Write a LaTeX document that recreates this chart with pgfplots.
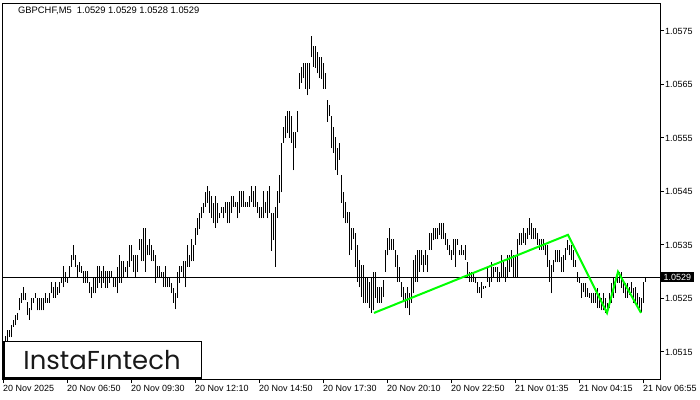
\documentclass[border=0pt]{standalone}
\usepackage{pgfplots}
\usepackage{pgfplotstable}
\pgfplotsset{compat=1.18}
\usepackage{fontspec}
\setmainfont{Liberation Sans}
\newfontfamily\logofont{Poppins}
\definecolor{patgreen}{RGB}{0,255,0}

% M5 bars: position, low, high
\pgfplotstableread{
x lo hi
5 1.05171 1.05180
7 1.05171 1.05191
9 1.05178 1.05191
11 1.05178 1.05200
13 1.05197 1.05210
15 1.05200 1.05219
17 1.05210 1.05223
19 1.05228 1.05251
21 1.05242 1.05260
23 1.05247 1.05271
25 1.05247 1.05260
27 1.05219 1.05243
29 1.05210 1.05232
31 1.05228 1.05251
33 1.05242 1.05251
35 1.05251 1.05260
37 1.05228 1.05251
39 1.05228 1.05251
41 1.05228 1.05251
43 1.05228 1.05251
45 1.05242 1.05260
47 1.05242 1.05251
49 1.05242 1.05260
51 1.05260 1.05281
53 1.05251 1.05271
55 1.05251 1.05281
57 1.05257 1.05271
59 1.05260 1.05281
61 1.05279 1.05290
63 1.05271 1.05311
65 1.05281 1.05300
67 1.05279 1.05290
69 1.05290 1.05311
71 1.05309 1.05331
73 1.05322 1.05350
75 1.05309 1.05331
77 1.05290 1.05313
79 1.05300 1.05318
81 1.05298 1.05311
83 1.05279 1.05301
85 1.05279 1.05301
87 1.05279 1.05301
89 1.05260 1.05281
91 1.05251 1.05271
93 1.05260 1.05290
95 1.05260 1.05290
97 1.05270 1.05311
99 1.05279 1.05311
101 1.05270 1.05301
103 1.05279 1.05311
105 1.05270 1.05301
107 1.05270 1.05301
109 1.05279 1.05301
111 1.05290 1.05301
113 1.05271 1.05290
115 1.05271 1.05290
117 1.05260 1.05309
119 1.05279 1.05331
121 1.05279 1.05320
123 1.05290 1.05320
125 1.05300 1.05309
127 1.05290 1.05320
129 1.05309 1.05350
131 1.05320 1.05350
133 1.05300 1.05331
135 1.05290 1.05331
137 1.05300 1.05331
139 1.05341 1.05361
141 1.05320 1.05361
143 1.05320 1.05382
145 1.05300 1.05382
147 1.05331 1.05350
149 1.05331 1.05361
151 1.05320 1.05350
153 1.05320 1.05341
155 1.05279 1.05331
157 1.05290 1.05311
159 1.05290 1.05311
161 1.05290 1.05300
163 1.05271 1.05300
165 1.05271 1.05311
167 1.05271 1.05290
169 1.05271 1.05290
171 1.05260 1.05279
173 1.05242 1.05270
175 1.05230 1.05260
177 1.05251 1.05300
179 1.05279 1.05311
181 1.05300 1.05311
183 1.05290 1.05320
185 1.05271 1.05320
187 1.05309 1.05350
189 1.05309 1.05331
191 1.05320 1.05361
193 1.05320 1.05350
195 1.05350 1.05382
197 1.05369 1.05400
199 1.05380 1.05410
201 1.05400 1.05421
203 1.05410 1.05429
205 1.05421 1.05449
207 1.05429 1.05460
209 1.05410 1.05451
211 1.05400 1.05442
213 1.05391 1.05429
215 1.05382 1.05442
217 1.05391 1.05429
219 1.05400 1.05410
221 1.05410 1.05421
223 1.05400 1.05421
225 1.05410 1.05430
227 1.05391 1.05430
229 1.05391 1.05430
231 1.05410 1.05442
233 1.05421 1.05442
235 1.05421 1.05430
237 1.05400 1.05430
239 1.05410 1.05451
241 1.05421 1.05451
243 1.05421 1.05451
245 1.05421 1.05430
247 1.05421 1.05430
249 1.05421 1.05442
251 1.05430 1.05460
253 1.05421 1.05451
255 1.05421 1.05460
257 1.05410 1.05430
259 1.05400 1.05421
261 1.05400 1.05421
263 1.05400 1.05451
265 1.05410 1.05430
267 1.05400 1.05451
269 1.05410 1.05460
271 1.05339 1.05410
273 1.05359 1.05410
275 1.05309 1.05421
277 1.05400 1.05451
279 1.05429 1.05481
281 1.05449 1.05541
283 1.05541 1.05571
285 1.05550 1.05591
287 1.05559 1.05600
289 1.05550 1.05600
291 1.05541 1.05591
293 1.05490 1.05561
295 1.05531 1.05561
297 1.05561 1.05600
299 1.05642 1.05671
301 1.05653 1.05683
303 1.05662 1.05690
305 1.05642 1.05690
307 1.05630 1.05690
309 1.05642 1.05690
311 1.05701 1.05741
313 1.05683 1.05722
315 1.05681 1.05722
317 1.05671 1.05711
319 1.05662 1.05701
321 1.05660 1.05701
323 1.05642 1.05690
325 1.05642 1.05671
327 1.05580 1.05621
329 1.05591 1.05612
331 1.05531 1.05591
333 1.05522 1.05571
335 1.05490 1.05552
337 1.05481 1.05531
339 1.05509 1.05541
341 1.05429 1.05481
343 1.05400 1.05449
345 1.05391 1.05430
347 1.05391 1.05412
349 1.05331 1.05412
351 1.05341 1.05382
353 1.05361 1.05382
355 1.05309 1.05372
357 1.05281 1.05350
359 1.05271 1.05322
361 1.05253 1.05313
363 1.05242 1.05313
365 1.05242 1.05290
367 1.05242 1.05290
369 1.05232 1.05281
371 1.05223 1.05290
373 1.05228 1.05300
375 1.05251 1.05300
377 1.05242 1.05271
379 1.05242 1.05271
381 1.05242 1.05271
383 1.05253 1.05285
385 1.05300 1.05341
387 1.05331 1.05363
389 1.05341 1.05382
391 1.05341 1.05361
393 1.05341 1.05361
395 1.05309 1.05341
397 1.05281 1.05331
399 1.05281 1.05309
401 1.05253 1.05281
403 1.05243 1.05271
405 1.05232 1.05260
407 1.05232 1.05271
409 1.05219 1.05260
411 1.05242 1.05290
413 1.05260 1.05322
415 1.05281 1.05331
417 1.05281 1.05341
419 1.05300 1.05341
421 1.05313 1.05341
423 1.05300 1.05331
425 1.05313 1.05341
427 1.05300 1.05331
429 1.05341 1.05372
431 1.05341 1.05372
433 1.05359 1.05382
435 1.05361 1.05382
437 1.05361 1.05382
439 1.05369 1.05391
441 1.05361 1.05391
443 1.05361 1.05391
445 1.05350 1.05372
447 1.05341 1.05361
449 1.05331 1.05350
451 1.05322 1.05341
453 1.05331 1.05361
455 1.05309 1.05361
457 1.05350 1.05361
459 1.05331 1.05341
461 1.05331 1.05350
463 1.05331 1.05341
465 1.05322 1.05350
467 1.05290 1.05318
469 1.05281 1.05300
471 1.05281 1.05300
473 1.05281 1.05300
475 1.05279 1.05290
477 1.05260 1.05281
479 1.05260 1.05271
481 1.05251 1.05281
483 1.05268 1.05273
485 1.05270 1.05273
487 1.05281 1.05309
489 1.05271 1.05290
491 1.05281 1.05318
493 1.05290 1.05309
495 1.05300 1.05309
497 1.05281 1.05309
499 1.05281 1.05300
501 1.05290 1.05331
503 1.05290 1.05322
505 1.05281 1.05309
507 1.05290 1.05331
509 1.05300 1.05331
511 1.05309 1.05341
513 1.05290 1.05331
515 1.05290 1.05331
517 1.05290 1.05361
519 1.05350 1.05372
521 1.05350 1.05372
523 1.05354 1.05382
525 1.05350 1.05372
527 1.05361 1.05382
529 1.05369 1.05400
531 1.05361 1.05391
533 1.05361 1.05382
535 1.05361 1.05382
537 1.05350 1.05372
539 1.05341 1.05361
541 1.05341 1.05361
543 1.05341 1.05361
545 1.05331 1.05350
547 1.05309 1.05350
549 1.05281 1.05322
551 1.05260 1.05313
553 1.05300 1.05322
555 1.05318 1.05341
557 1.05318 1.05341
559 1.05318 1.05341
561 1.05300 1.05328
563 1.05300 1.05331
565 1.05322 1.05344
567 1.05341 1.05359
569 1.05331 1.05350
571 1.05322 1.05350
573 1.05309 1.05341
575 1.05309 1.05322
577 1.05281 1.05300
579 1.05279 1.05290
581 1.05251 1.05279
583 1.05262 1.05279
585 1.05253 1.05279
587 1.05253 1.05270
589 1.05251 1.05260
591 1.05242 1.05260
593 1.05242 1.05260
595 1.05242 1.05260
597 1.05232 1.05270
599 1.05232 1.05260
601 1.05228 1.05251
603 1.05228 1.05260
605 1.05223 1.05251
607 1.05223 1.05242
609 1.05232 1.05260
611 1.05242 1.05279
613 1.05251 1.05288
615 1.05260 1.05290
617 1.05279 1.05300
619 1.05279 1.05300
621 1.05270 1.05300
623 1.05260 1.05281
625 1.05251 1.05279
627 1.05251 1.05279
629 1.05257 1.05271
631 1.05260 1.05281
633 1.05242 1.05270
635 1.05242 1.05271
637 1.05232 1.05260
639 1.05232 1.05253
641 1.05225 1.05251
643 1.05242 1.05281
645 1.05281 1.05288
}\bars

\begin{document}
\begin{tikzpicture}[x=1bp,y=1bp]
\begin{axis}[
  at={(2bp,21bp)}, anchor=south west,
  width=658bp, height=376bp, scale only axis,
  xmin=2, xmax=660, ymin=1.050995, ymax=1.058023,
  axis line style={line width=1bp},
  tick align=outside,
  major tick length=4bp,
  every tick/.style={black, line width=1bp},
  xtick pos=bottom, ytick pos=right,
  yticklabel pos=right,
  xtick={3,67,131,195,259,323,387,451,515,579,643},
  xticklabels={20 Nov 2025,20 Nov 06:50,20 Nov 09:30,20 Nov 12:10,20 Nov 14:50,20 Nov 17:30,20 Nov 20:10,20 Nov 22:50,21 Nov 01:35,21 Nov 04:15,21 Nov 06:55},
  ytick={1.0515,1.0525,1.0535,1.0545,1.0555,1.0565,1.0575},
  yticklabels={1.0515,1.0525,1.0535,1.0545,1.0555,1.0565,1.0575},
  ticklabel style={font=\fontsize{9}{10}\selectfont},
  xticklabel style={anchor=north west, inner sep=0pt, yshift=-2bp},
  yticklabel style={anchor=west, inner sep=0pt, xshift=1bp},
  clip=false,
  ]
\addplot[only marks, mark=*, mark size=0pt, mark options={draw=none, fill=none}, forget plot,
  error bars/.cd, y dir=plus, y explicit, error mark=none,
  error bar style={black, line width=1bp}]
  table[x=x, y=lo, y error plus expr={\thisrow{hi}-\thisrow{lo}}] {\bars};
\addplot[black, line width=1bp] coordinates {(2,1.0529) (660,1.0529)};
\addplot[patgreen, line width=2bp] coordinates {(374,1.05223) (568,1.05369) (607,1.05223) (618,1.05300) (641,1.05223)};
\node[fill=black, text=white, anchor=west, inner xsep=3bp, inner ysep=1.5bp,
  font=\fontsize{9}{10}\selectfont] at (axis cs:660.5,1.0529) {1.0529};
\end{axis}
\draw[line width=1.5bp, fill=white] (3.75bp,21.75bp) rectangle (201.25bp,58.25bp);
\node[font=\logofont\fontsize{26}{26}\selectfont, text=black!90] at (102bp,40bp) {InstaFıntech};
\node[anchor=base west, inner sep=0pt, font=\fontsize{9.4}{10}\selectfont] at (18bp,386bp) {GBPCHF,M5\ \ 1.0529 1.0529 1.0528 1.0529};
\pgfresetboundingbox
\useasboundingbox (0,0) rectangle (700bp,400bp);
\end{tikzpicture}
\end{document}
